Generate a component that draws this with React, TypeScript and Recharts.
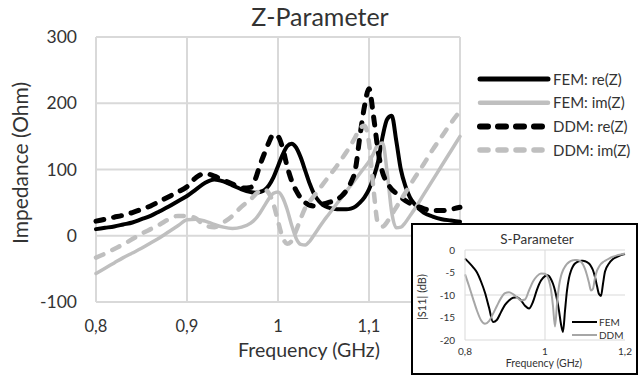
import React from "react";
import { LineChart, Line, XAxis, YAxis, CartesianGrid, ReferenceLine } from "recharts";

// Z-parameter sweep (GHz) and impedances (Ohm)
const zFreq = [
  0.8, 0.81, 0.82, 0.83, 0.84, 0.85, 0.86, 0.87, 0.88, 0.89, 0.9, 0.91, 0.92, 0.93, 0.94, 0.95, 0.96,
  0.97, 0.975, 0.98, 0.985, 0.99, 0.995, 1, 1.005, 1.01, 1.015, 1.02, 1.025, 1.03, 1.035, 1.04, 1.045,
  1.05, 1.055, 1.06, 1.065, 1.07, 1.075, 1.08, 1.085, 1.09, 1.095, 1.1, 1.105, 1.11, 1.115, 1.12, 1.125,
  1.13, 1.135, 1.14, 1.145, 1.15,
  1.16, 1.17, 1.18, 1.19, 1.2,
];
const femRe = [
  10, 12, 14, 17, 20, 25, 30, 37, 44, 52, 60, 70, 80, 85, 82, 76, 70,
  66, 65, 66, 69, 76, 88, 105, 122, 135, 139, 133, 118, 98, 78, 62, 52,
  46, 43, 41, 40, 40, 40, 41, 44, 50, 58, 70, 88, 112, 150, 176, 181,
  143, 100, 75, 58, 48,
  35, 29, 25, 23, 21,
];
const femIm = [
  -57, -49, -41, -33, -26, -19, -11, -3, 6, 15, 24, 25, 22, 17, 13, 11, 13,
  19, 25, 34, 45, 56, 64, 66, 58, 40, 16, -4, -13, -14, -8, 2, 12,
  22, 31, 40, 49, 58, 67, 76, 85, 94, 103, 112, 124, 138, 140, 95, 35,
  12, 13, 20, 30, 40,
  62, 84, 106, 128, 150,
];
const ddmRe = [
  22, 25, 28, 31, 35, 40, 45, 52, 59, 66, 74, 88, 94, 90, 84, 78, 72,
  73, 85, 106, 124, 141, 153, 150, 133, 105, 83, 68, 57, 50, 46, 45, 46,
  48, 50, 52, 55, 60, 68, 80, 100, 150, 195, 222, 180, 128, 95, 80, 70,
  64, 58, 53, 49, 46,
  41, 38, 38, 40, 43,
];
const ddmIm = [
  -33, -27, -20, -13, -5, 3, 10, 17, 25, 30, 30, 26, 15, 13, 20, 30, 44,
  55, 62, 68, 70, 64, 48, 22, -2, -12, -8, 8, 26, 42, 52, 61, 70,
  79, 88, 97, 106, 116, 126, 137, 149, 162, 166, 140, 70, 18, 14, 21, 32,
  43, 54, 65, 76, 87,
  108, 130, 150, 170, 188,
];
const zTicksX = [0.8, 0.9, 1, 1.1, 1.2];
const zTicksY = [-100, 0, 100, 200, 300];

// S11 inset (dB)
const sFreq = [
  0.8, 0.81, 0.82, 0.83, 0.84, 0.85, 0.86, 0.87, 0.88, 0.89, 0.9, 0.91, 0.92, 0.93, 0.94, 0.95, 0.96, 0.97, 0.98, 0.99,
  1, 1.005, 1.01, 1.015, 1.02, 1.025, 1.03, 1.035, 1.04, 1.045, 1.05, 1.055, 1.06, 1.065, 1.07, 1.075,
  1.08, 1.085, 1.09, 1.095, 1.1, 1.105, 1.11, 1.115, 1.12, 1.125, 1.13, 1.135, 1.14, 1.145, 1.15,
  1.16, 1.17, 1.18, 1.19, 1.2,
];
const sFem = [
  -1.9, -2.8, -3.8, -5.0, -7.0, -9.5, -12.8, -16.0, -15.5, -13.8, -12.2, -11.2, -10.6, -10.5, -11.2, -12.4, -13.0, -11.5, -8.8, -6.8,
  -5.8, -5.6, -5.8, -6.5, -7.5, -9.0, -11.0, -13.5, -16.5, -18.2, -13.5, -9.0, -6.2, -4.6, -3.6, -3.0,
  -2.7, -2.5, -2.4, -2.4, -2.5, -2.7, -3.0, -3.6, -4.5, -6.0, -8.0, -9.8, -10.2, -7.5, -4.8,
  -3.0, -2.0, -1.5, -1.1, -0.9,
];
const sDdm = [
  -5.4, -8.0, -10.8, -13.5, -15.6, -16.4, -15.8, -14.2, -12.4, -10.7, -9.6, -9.4, -9.8, -10.5, -11.2, -11.0, -9.0, -7.0, -5.8, -5.2,
  -5.3, -5.8, -6.8, -8.8, -12.5, -17.0, -12.0, -8.0, -5.8, -4.5, -3.7, -3.1, -2.7, -2.4, -2.3, -2.2,
  -2.2, -2.3, -2.6, -3.2, -4.2, -5.6, -7.3, -9.0, -8.6, -6.2, -4.6, -3.7, -3.1, -2.7, -2.4,
  -1.9, -1.5, -1.2, -1.0, -0.8,
];
const sTicksX = [0.8, 1, 1.2];
const sTicksY = [-20, -15, -10, -5, 0];

const zData = zFreq.map((f, i) => ({ f, femRe: femRe[i], femIm: femIm[i], ddmRe: ddmRe[i], ddmIm: ddmIm[i] }));
const sData = sFreq.map((f, i) => ({ f, fem: sFem[i], ddm: sDdm[i] }));

const zSeries = [
  { key: "femRe", name: "FEM: re(Z)", color: "#000", width: 4, dash: undefined },
  { key: "femIm", name: "FEM: im(Z)", color: "#bfbfbf", width: 3.5, dash: undefined },
  { key: "ddmRe", name: "DDM: re(Z)", color: "#000", width: 5, dash: "8 10" },
  { key: "ddmIm", name: "DDM: im(Z)", color: "#bfbfbf", width: 4.5, dash: "8 10" },
];
const sSeries = [
  { key: "fem", name: "FEM", color: "#000", width: 2 },
  { key: "ddm", name: "DDM", color: "#a6a6a6", width: 2 },
];

const FONT = "Lato, 'Liberation Sans', sans-serif";
const TXT = "#333";
const GRID = "#d9d9d9";
const comma = (v: number) => String(v).replace(".", ",");
// 1,2 of the main axis sits under the inset in the original
const zTickFmt = (v: number) => (v >= 1.2 ? "" : comma(v));

export default function App() {
  return (
    <div style={{ position: "absolute", left: 0, top: 0, width: 638, height: 378, background: "#fff", fontFamily: FONT }}>
      <div style={{ position: "absolute", left: 0, top: 0 }}>
        <LineChart width={638} height={378} data={zData} margin={{ top: 37, right: 178, bottom: 36, left: 0 }}>
          <CartesianGrid stroke={GRID} strokeWidth={2} />
          <XAxis dataKey="f" type="number" domain={[0.8, 1.2]} ticks={zTicksX} tickFormatter={zTickFmt}
            axisLine={false} tickLine={false} tickSize={0} tickMargin={18} height={40}
            tick={{ fontSize: 16.5, fill: TXT, fontFamily: FONT }} />
          <YAxis type="number" domain={[-100, 300]} ticks={zTicksY} axisLine={false} tickLine={false}
            tickSize={0} tickMargin={19} width={96} tick={{ fontSize: 17.5, fill: TXT, fontFamily: FONT }} />
          {zSeries.map((s) => (
            <Line key={s.key} dataKey={s.key} type="monotone" stroke={s.color} strokeWidth={s.width}
              strokeDasharray={s.dash} strokeLinecap="round" dot={false} isAnimationActive={false} />
          ))}
        </LineChart>
      </div>

      <svg width={638} height={378} style={{ position: "absolute", left: 0, top: 0 }} fontFamily={FONT}>
        <text x={320} y={26} textAnchor="middle" fontSize={25} fill={TXT}>Z-Parameter</text>
        <text x={309} y={357} textAnchor="middle" fontSize={19.5} fill={TXT}>Frequency (GHz)</text>
        <text transform="translate(28,163) rotate(-90)" textAnchor="middle" fontSize={21} fill={TXT}>Impedance (Ohm)</text>
        {zSeries.map((s, i) => (
          <g key={s.key}>
            <line x1={480} x2={548} y1={79 + i * 23.7} y2={79 + i * 23.7} stroke={s.color}
              strokeWidth={s.width + 1} strokeDasharray={s.dash} strokeLinecap="round" />
            <text x={553} y={79 + i * 23.7 + 5.5} fontSize={15} fill={TXT}>{s.name}</text>
          </g>
        ))}
      </svg>

      <div style={{ position: "absolute", left: 411, top: 223, width: 227, height: 152, boxSizing: "border-box", border: "2px solid #000", background: "#fff" }} />
      <div style={{ position: "absolute", left: 412, top: 224 }}>
        <LineChart width={225} height={150} data={sData} margin={{ top: 26, right: 12, bottom: 14, left: 0 }}>
          <CartesianGrid stroke={GRID} vertical={false} />
          <ReferenceLine x={1} stroke={GRID} />
          <XAxis dataKey="f" type="number" domain={[0.8, 1.2]} ticks={sTicksX} tickFormatter={comma}
            axisLine={false} tickLine={false} tickSize={0} tickMargin={8} height={20}
            tick={{ fontSize: 10, fill: TXT, fontFamily: FONT }} />
          <YAxis type="number" domain={[-20, 0]} ticks={sTicksY} axisLine={{ stroke: GRID }} tickLine={false}
            tickSize={0} tickMargin={10} width={53} tick={{ fontSize: 10, fill: TXT, fontFamily: FONT }} />
          {sSeries.map((s) => (
            <Line key={s.key} dataKey={s.key} type="monotone" stroke={s.color} strokeWidth={s.width}
              dot={false} isAnimationActive={false} />
          ))}
        </LineChart>
      </div>
      <svg width={638} height={378} style={{ position: "absolute", left: 0, top: 0, pointerEvents: "none" }} fontFamily={FONT}>
        <text x={537} y={244} textAnchor="middle" fontSize={13.5} fill={TXT}>S-Parameter</text>
        <text x={544} y={367} textAnchor="middle" fontSize={10.5} fill={TXT}>Frequency (GHz)</text>
        <text transform="translate(426,297) rotate(-90)" textAnchor="middle" fontSize={11} fill={TXT}>|S11| (dB)</text>
        {sSeries.map((s, i) => (
          <g key={s.key}>
            <line x1={572} x2={597} y1={322 + i * 13} y2={322 + i * 13} stroke={s.color} strokeWidth={2} />
            <text x={599} y={322 + i * 13 + 3.5} fontSize={10} fill={TXT}>{s.name}</text>
          </g>
        ))}
      </svg>
    </div>
  );
}
